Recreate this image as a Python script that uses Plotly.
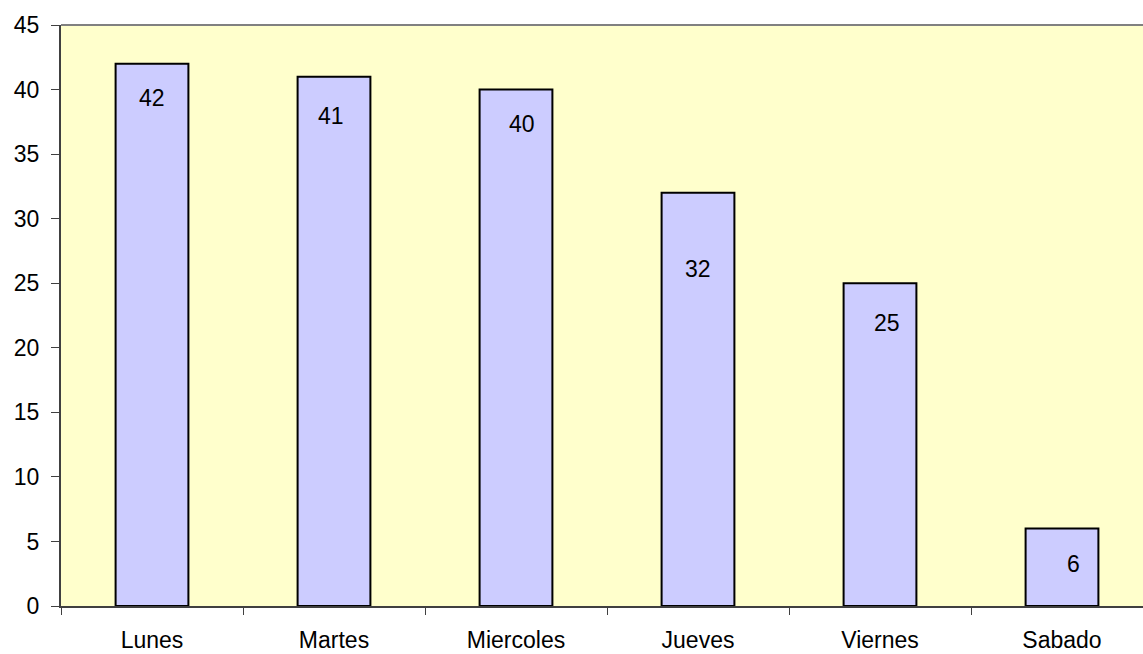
import plotly.graph_objects as go

categories = ["Lunes", "Martes", "Miercoles", "Jueves", "Viernes", "Sabado"]
values = [42, 41, 40, 32, 25, 6]
y_ticks = [0, 5, 10, 15, 20, 25, 30, 35, 40, 45]

# label style offsets (pixels) mimicking the original label placement
label_dx = [0, -3, 6, 0, 7, 11]
label_dy = [34, 39, 34, 76, 40, 35]

FONT = "Liberation Sans, Arial, sans-serif"
FS = 23

fig = go.Figure()
fig.add_trace(go.Bar(
    x=categories, y=values,
    marker=dict(color="#CCCCFF", line=dict(color="#000000", width=2)),
    width=0.40,
    hoverinfo="x+y",
))

for c, v, dx, dy in zip(categories, values, label_dx, label_dy):
    fig.add_annotation(x=c, y=v, text=str(v), showarrow=False,
                       xshift=dx, yshift=-dy, yanchor="middle",
                       font=dict(family=FONT, size=FS, color="#000000"))

fig.add_shape(type="line", xref="paper", yref="paper", x0=0, x1=1, y0=1, y1=1,
              line=dict(color="#808080", width=2))

# the original chart's plot area runs slightly past the right edge of the image
fig.update_layout(
    width=1153, height=654,
    margin=dict(l=61, r=0, t=25, b=48, autoexpand=False),
    paper_bgcolor="#FFFFFF",
    plot_bgcolor="#FFFFCC",
    showlegend=False,
    font=dict(family=FONT, size=FS, color="#000000"),
)
fig.update_xaxes(
    automargin=False,
    showgrid=False, showline=True, linecolor="#404040", linewidth=2,
    ticks="outside", ticklen=7, tickcolor="#404040", tickwidth=1,
    tickson="boundaries", tickfont=dict(family=FONT, size=FS),
    ticklabelstandoff=12,
)
fig.update_yaxes(
    automargin=False,
    range=[0, 45], tickvals=y_ticks, showgrid=False,
    showline=True, linecolor="#404040", linewidth=2,
    ticks="outside", ticklen=8, tickcolor="#404040", tickwidth=1,
    tickfont=dict(family=FONT, size=FS), ticklabelstandoff=7,
    zeroline=False,
)

fig.write_html(
    "out.html",
    config={"displayModeBar": False},
    post_script="document.body.style.margin='0';document.body.style.overflow='hidden';",
)
